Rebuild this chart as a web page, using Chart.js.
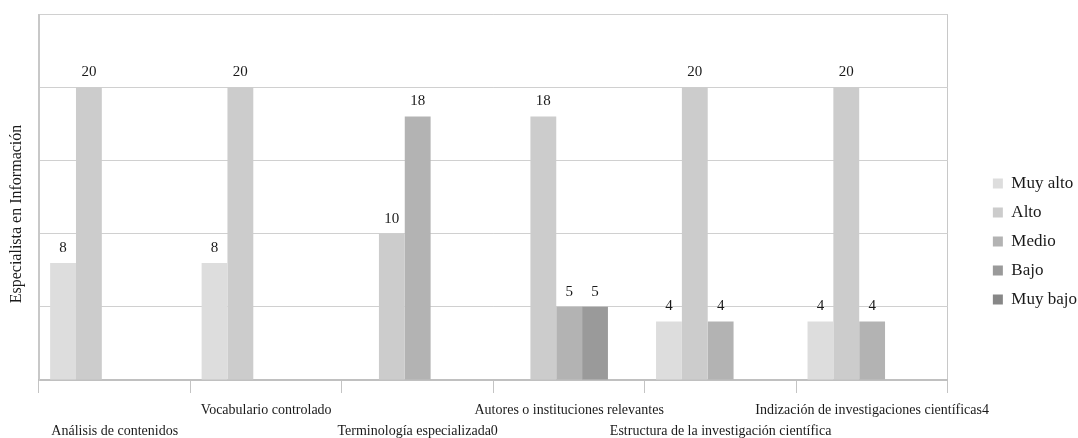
<!DOCTYPE html>
<html lang="es">
<head>
<meta charset="utf-8">
<title>Especialista en Información</title>
<script src="https://cdn.jsdelivr.net/npm/chart.js@4.4.1/dist/chart.umd.min.js"></script>
<style>
  html, body { margin: 0; padding: 0; background: #ffffff; }
  #wrap { width: 1078px; height: 438px; position: relative; }
</style>
</head>
<body>
<div id="wrap"><canvas id="chart"></canvas></div>
<script>
// Categorías del eje X
const categories = [
  'Análisis de contenidos',
  'Vocabulario controlado',
  'Terminología especializada0',
  'Autores o instituciones relevantes',
  'Estructura de la investigación científica',
  'Indización de investigaciones científicas4'
];

// Niveles (series) y sus valores por categoría
const seriesNames = ['Muy alto', 'Alto', 'Medio', 'Bajo', 'Muy bajo'];
const muyAlto = [8, 8, 0, 0, 4, 4];
const alto    = [20, 20, 10, 18, 20, 20];
const medio   = [0, 0, 18, 5, 4, 4];
const bajo    = [0, 0, 0, 5, 0, 0];
const muyBajo = [0, 0, 0, 0, 0, 0];

const seriesColors = ['#dddddd', '#cccccc', '#b3b3b3', '#9a9a9a', '#878787'];
const seriesValues = [muyAlto, alto, medio, bajo, muyBajo];

const yTitle = 'Especialista en Información';
const yMax = 25;
const yStep = 5;

const SERIF = '"Liberation Serif", "Times New Roman", serif';
const TEXT = '#1a1a1a';

// Etiquetas de valor sobre cada barra (se omiten los ceros)
const valueLabels = {
  id: 'valueLabels',
  afterDatasetsDraw(chart) {
    const ctx = chart.ctx;
    ctx.save();
    ctx.font = '15px ' + SERIF;
    ctx.fillStyle = TEXT;
    ctx.textAlign = 'center';
    ctx.textBaseline = 'alphabetic';
    chart.data.datasets.forEach((ds, di) => {
      const meta = chart.getDatasetMeta(di);
      if (meta.hidden) return;
      meta.data.forEach((bar, i) => {
        const v = ds.data[i];
        if (!v) return;
        ctx.fillText(String(v), bar.x, bar.y - 11);
      });
    });
    ctx.restore();
  }
};

// Título vertical del eje Y
const axisTitle = {
  id: 'axisTitle',
  afterDraw(chart) {
    const { ctx, chartArea } = chart;
    ctx.save();
    ctx.font = '16px ' + SERIF;
    ctx.fillStyle = TEXT;
    ctx.textAlign = 'center';
    ctx.textBaseline = 'middle';
    ctx.translate(chartArea.left - 22, (chartArea.top + chartArea.bottom) / 2 + 17);
    ctx.rotate(-Math.PI / 2);
    ctx.fillText(yTitle, 0, 0);
    ctx.restore();
  }
};

const datasets = seriesNames.map((name, k) => ({
  label: name,
  data: seriesValues[k],
  backgroundColor: seriesColors[k],
  borderWidth: 0,
  categoryPercentage: 0.853,
  barPercentage: 1
}));

new Chart(document.getElementById('chart'), {
  type: 'bar',
  data: { labels: categories, datasets },
  plugins: [valueLabels, axisTitle],
  options: {
    responsive: true,
    maintainAspectRatio: false,
    animation: false,
    layout: { padding: { top: 14, left: 39, right: -9, bottom: -10 } },
    plugins: {
      tooltip: { enabled: false },
      legend: {
        position: 'right',
        align: 'center',
        title: { display: true, text: '', padding: 0, font: { size: 13, lineHeight: 1.6 } },
        labels: {
          boxWidth: 10,
          boxHeight: 10,
          padding: 12,
          color: TEXT,
          font: { family: SERIF, size: 17 }
        }
      }
    },
    scales: {
      x: {
        grid: {
          offset: true,
          color: (c) => (c.index === 0 || c.index === undefined) ? '#c8c8c8' : 'rgba(0,0,0,0)',
          tickColor: '#c4c4c4',
          tickLength: 13,
          lineWidth: 1
        },
        border: { display: true, color: '#c0c0c0', width: 2 },
        ticks: {
          autoSkip: false,
          maxRotation: 0,
          minRotation: 0,
          padding: 6.5,
          color: TEXT,
          font: { family: SERIF, size: 14, lineHeight: 1.5 },
          callback: function (value, index) {
            const label = this.getLabelForValue(value);
            return index % 2 === 0 ? ['', label] : [label, ''];
          }
        }
      },
      y: {
        min: 0,
        max: yMax,
        ticks: { stepSize: yStep, display: false },
        grid: { color: '#d0d0d0', drawTicks: false, lineWidth: 1 },
        border: { display: true, color: '#c8c8c8' }
      },
      gap: {
        position: 'right',
        display: true,
        ticks: { display: false },
        grid: { display: false },
        border: { display: false },
        afterFit: (scale) => { scale.width = 33; }
      }
    }
  }
});
</script>
</body>
</html>
